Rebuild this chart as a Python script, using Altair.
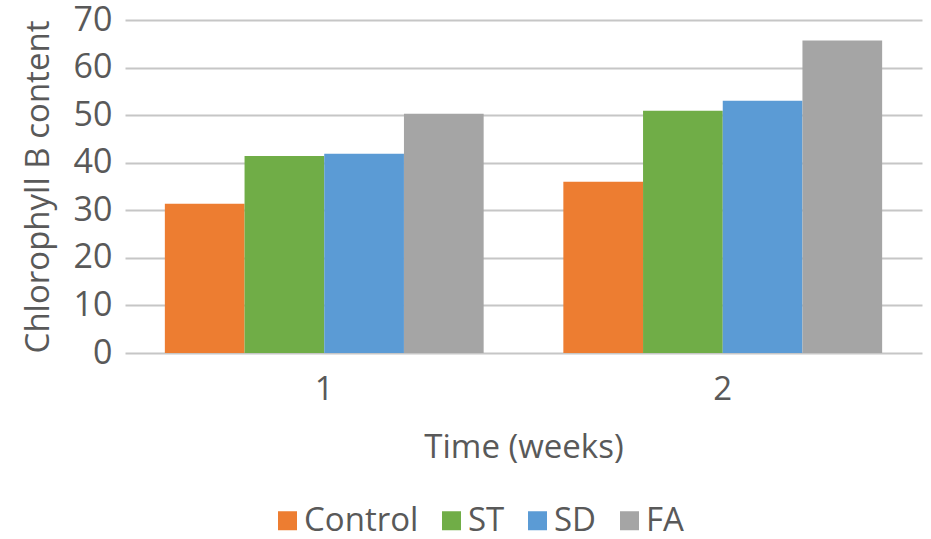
import altair as alt
import pandas as pd

weeks = ["1", "1", "1", "1", "2", "2", "2", "2"]
treatments = ["Control", "ST", "SD", "FA", "Control", "ST", "SD", "FA"]
values = [31.4, 41.4, 41.9, 50.3, 36.0, 50.9, 53.0, 65.7]
series_order = ["Control", "ST", "SD", "FA"]
series_colors = ["#ED7D31", "#70AD47", "#5B9BD5", "#A5A5A5"]

df = pd.DataFrame({"week": weeks, "treatment": treatments, "value": values})

font = "Open Sans"
text_color = "#595959"
fs = 33

chart = (
    alt.Chart(df)
    .mark_bar()
    .encode(
        x=alt.X(
            "week:N",
            title="Time (weeks)",
            scale=alt.Scale(paddingInner=0.2, paddingOuter=0.1),
            axis=alt.Axis(
                labelAngle=0,
                labelFontSize=fs,
                labelColor=text_color,
                labelFont=font,
                labelPadding=20,
                ticks=False,
                domain=False,
                titleFontSize=fs,
                titleFont=font,
                titleColor=text_color,
                titleFontWeight="normal",
                titlePadding=25,
            ),
        ),
        xOffset=alt.XOffset("treatment:N", sort=series_order),
        y=alt.Y(
            "value:Q",
            title="Chlorophyll B content",
            scale=alt.Scale(domain=[0, 70]),
            axis=alt.Axis(
                values=[0, 10, 20, 30, 40, 50, 60, 70],
                labelFontSize=34,
                labelColor=text_color,
                labelFont=font,
                labelPadding=13,
                ticks=False,
                domain=False,
                gridColor="#c6c6c6",
                gridWidth=2,
                titleFontSize=fs,
                titleFont=font,
                titleColor=text_color,
                titleFontWeight="normal",
                titlePadding=18,
            ),
        ),
        color=alt.Color(
            "treatment:N",
            sort=series_order,
            scale=alt.Scale(domain=series_order, range=series_colors),
            legend=alt.Legend(
                title=None,
                orient="none",
                direction="horizontal",
                legendX=146,
                legendY=484,
                symbolType="square",
                symbolSize=361,
                symbolStrokeWidth=0,
                labelFontSize=fs,
                labelFont=font,
                labelColor=text_color,
                labelOffset=0,
                columnPadding=16,
            ),
        ),
    )
    .properties(
        width=797,
        height=333,
        autosize=alt.AutoSizeParams(type="none"),
        padding={"left": 125, "top": 20, "right": 9, "bottom": 186},
    )
    .configure_view(stroke=None)
)

chart.save("out.html", embed_options={"renderer": "svg", "actions": False})
